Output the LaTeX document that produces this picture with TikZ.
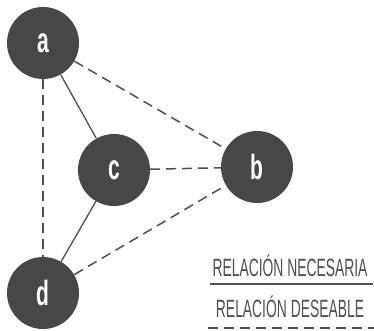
\documentclass[tikz,border=0pt]{standalone}
\usepackage{fontspec}
\usepackage{tikz}
\usetikzlibrary{positioning}
\newfontfamily\legendfont[FakeStretch=0.555]{Liberation Sans}
\newfontfamily\letterfont[FakeStretch=0.6]{Liberation Sans Bold}
\definecolor{nodegray}{HTML}{474747}
\definecolor{linegray}{HTML}{505050}

\begin{document}
\begin{tikzpicture}[
        x=1pt, y=-1pt,
        ent/.style={
            circle, fill=nodegray, draw=none,
            minimum size=72pt, inner sep=0pt,
            text=white, font=\letterfont\fontsize{35}{36}\selectfont
        },
        legend/.style={
            text=linegray, inner sep=0pt, anchor=base,
            font=\legendfont\fontsize{25}{26}\selectfont
        },
        need/.style={line width=1.3pt, linegray},
        wish/.style={line width=1.5pt, linegray, dash pattern=on 10pt off 6pt}
    ]
    \useasboundingbox (0,0) rectangle (374,331);

    % entities
    \node[ent] (a) at (43,43) {a};
    \node[ent] (c) at (114,170) {c};
    \node[ent] (b) at (257,167) {b};
    \node[ent] (d) at (43,293) {d};

    % relations
    \draw[need] (a) -- (c);
    \draw[need] (c) -- (d);
    \draw[wish] (a) -- (d);
    \draw[wish] (a) -- (b);
    \draw[wish] (c) -- (b);
    \draw[wish] (d) -- (b);

    % legend
    \node[legend] (nec) at (290,276) {RELACIÓN NECESARIA};
    \coordinate (nec-l) at (210,284);
    \coordinate (nec-r) at (373,284);
    \draw[need] (nec-l) -- (nec-r);

    \node[legend] (des) at (290,317) {RELACIÓN DESEABLE};
    \coordinate (des-l) at (208,328);
    \coordinate (des-r) at (374,328);
    \draw[wish] (des-l) -- (des-r);
\end{tikzpicture}
\end{document}
